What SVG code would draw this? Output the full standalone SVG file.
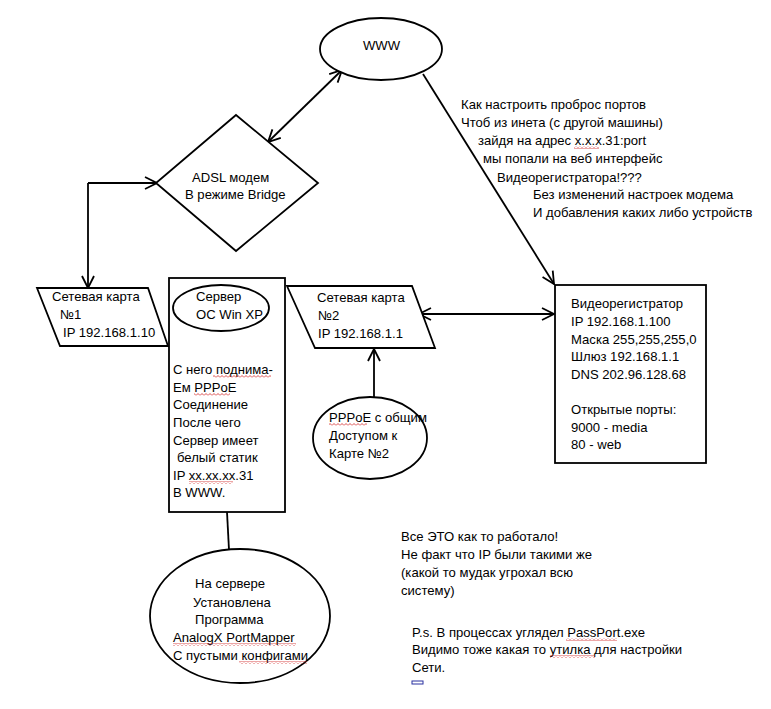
<svg xmlns="http://www.w3.org/2000/svg" width="771" height="709" viewBox="0 0 771 709">
<style>
.s{fill:none;stroke:#000;stroke-width:1.8}
.n{fill:#fff;stroke:#000;stroke-width:1.8}
text{font-family:"Liberation Sans",Arial,sans-serif;font-size:13.1px;fill:#000}
.w{fill:url(#wavy);stroke:none}
</style>
<defs>
<marker id="ah" viewBox="0 0 14 14" refX="13" refY="7" markerWidth="14" markerHeight="14" markerUnits="userSpaceOnUse" orient="auto-start-reverse">
<path d="M1,1 L13,7 L1,13" fill="none" stroke="#000" stroke-width="1.8"/>
</marker>
<pattern id="wavy" patternUnits="userSpaceOnUse" width="4" height="3">
<path d="M0,2.5 L2,0.5 L4,2.5" fill="none" stroke="#d02020" stroke-width="0.8"/>
</pattern>
</defs>
<rect width="771" height="709" fill="#fff"/>

<g id="connectors">
<path class="s" d="M268,142 L342,70" marker-start="url(#ah)" marker-end="url(#ah)"/>
<path class="s" d="M423,74 L554,284" marker-end="url(#ah)"/>
<path class="s" d="M88,183 L157,183" marker-end="url(#ah)"/>
<path class="s" d="M88,183 L88,288" marker-end="url(#ah)"/>
<path class="s" d="M419,314 L554,314" marker-start="url(#ah)" marker-end="url(#ah)"/>
<path class="s" d="M374,398 L374,349" marker-end="url(#ah)"/>
<path class="s" d="M227,512 L229,550"/>
</g>

<g id="www">
<ellipse class="n" cx="381" cy="49" rx="61" ry="31"/>
<text x="363" y="50">WWW</text>
</g>

<g id="modem">
<polygon class="n" points="236,115 318,183 236,251 156,183"/>
<text x="192" y="182">ADSL модем</text>
<text x="185" y="199">В режиме Bridge</text>
</g>

<g id="question">
<text x="461" y="109">Как настроить проброс портов</text>
<text x="461" y="127">Чтоб из инета (с другой машины)</text>
<text x="478" y="145">зайдя на адрес x.x.x.31:port</text>
<rect class="w" x="574" y="146" width="25" height="3"/>
<text x="483" y="163">мы попали на веб интерфейс</text>
<text x="497" y="182">Видеорегистратора!???</text>
<text x="533" y="199">Без изменений настроек модема</text>
<text x="533" y="217">И добавления каких либо устройств</text>
</g>

<g id="card1">
<polygon class="n" points="37,288 148,288 168,346 60,346"/>
<text x="52" y="301">Сетевая карта</text>
<text x="60" y="319">№1</text>
<text x="63" y="337">IP 192.168.1.10</text>
</g>

<g id="server">
<rect class="n" x="169" y="278" width="116" height="234"/>
<ellipse class="n" cx="221" cy="308" rx="48" ry="23"/>
<text x="196" y="301">Сервер</text>
<text x="196" y="319">ОС Win XP</text>
<text x="173" y="374">С него поднима-</text>
<rect class="w" x="213" y="375" width="58" height="3"/>
<text x="173" y="392">Ем PPPoE</text>
<rect class="w" x="194" y="393" width="36" height="3"/>
<text x="173" y="409">Соединение</text>
<text x="173" y="427">После чего</text>
<text x="173" y="445">Сервер имеет</text>
<text x="177" y="462">белый статик</text>
<text x="173" y="480">IP xx.xx.xx.31</text>
<rect class="w" x="189" y="481" width="44" height="3"/>
<text x="173" y="497">В WWW.</text>
</g>

<g id="card2">
<polygon class="n" points="287,286 412,286 435,348 315,348"/>
<text x="317" y="302">Сетевая карта</text>
<text x="318" y="320">№2</text>
<text x="318" y="338">IP 192.168.1.1</text>
</g>

<g id="pppoe">
<ellipse class="n" cx="370" cy="438" rx="57" ry="41"/>
<text x="329" y="422">PPPoE с общим</text>
<rect class="w" x="329" y="423" width="38" height="3"/>
<text x="329" y="440">Доступом к</text>
<text x="329" y="458">Карте №2</text>
</g>

<g id="dvr">
<rect class="n" x="555" y="285" width="151" height="178"/>
<text x="571" y="308">Видеорегистратор</text>
<text x="571" y="326">IP 192.168.1.100</text>
<text x="571" y="344">Маска 255,255,255,0</text>
<text x="571" y="361">Шлюз 192.168.1.1</text>
<text x="571" y="379">DNS 202.96.128.68</text>
<text x="571" y="414">Открытые порты:</text>
<text x="571" y="432">9000 - media</text>
<text x="571" y="449">80 - web</text>
</g>

<g id="portmapper">
<ellipse class="n" cx="240" cy="616" rx="90" ry="67"/>
<text x="195" y="588">На сервере</text>
<text x="193" y="607">Установлена</text>
<text x="195" y="624">Программа</text>
<text x="173" y="642">AnalogX PortMapper</text>
<rect class="w" x="173" y="643" width="123" height="3"/>
<text x="173" y="660">С пустыми конфигами</text>
<rect class="w" x="239" y="661" width="68" height="3"/>
</g>

<g id="notes">
<text x="401" y="541">Все ЭТО как то работало!</text>
<text x="401" y="559">Не факт что IP были такими же</text>
<text x="401" y="577">(какой то мудак угрохал всю</text>
<text x="401" y="595">систему)</text>
<text x="412" y="637">P.s. В процессах углядел PassPort.exe</text>
<rect class="w" x="566" y="638" width="51" height="3"/>
<text x="412" y="654">Видимо тоже какая то утилка для настройки</text>
<rect class="w" x="550" y="655" width="45" height="3"/>
<text x="412" y="672">Сети.</text>
<rect x="412" y="681" width="11" height="3" fill="none" stroke="#2830a0" stroke-width="1"/>
</g>
</svg>
